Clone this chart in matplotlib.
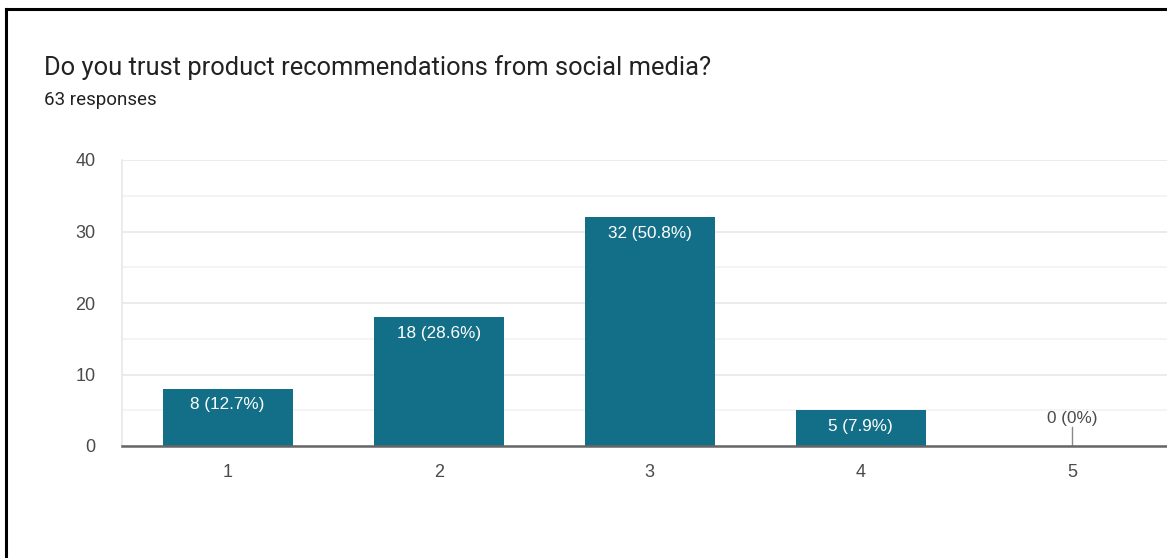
import matplotlib.pyplot as plt
from matplotlib.lines import Line2D
from matplotlib.ticker import MultipleLocator

plt.rcParams['font.family'] = ['Roboto', 'DejaVu Sans']
num_font = ['Liberation Sans', 'DejaVu Sans']

# Survey results
ratings = ['1', '2', '3', '4', '5']
counts = [8, 18, 32, 5, 0]
percents = ['12.7%', '28.6%', '50.8%', '7.9%', '0%']
title = 'Do you trust product recommendations from social media?'
subtitle = '63 responses'

W, H = 1167, 558
fig = plt.figure(figsize=(W / 100, H / 100), dpi=100)
fig.patch.set_facecolor('white')

# plot area in pixels: left 122, right 1177.5 (runs past the edge), y 160..446
ax = fig.add_axes([122 / W, 1 - 446 / H, 1055.5 / W, 286 / H])
x = list(range(1, len(ratings) + 1))
bar_color = '#136f87'
bars = ax.bar(x, counts, width=0.616, color=bar_color, zorder=3)

ax.set_xlim(0.5, 5.5)
ax.set_ylim(0, 40)
ax.yaxis.set_major_locator(MultipleLocator(10))
ax.yaxis.set_minor_locator(MultipleLocator(5))
ax.grid(axis='y', which='major', color='#e8e8e8', linewidth=1.2, zorder=0)
ax.grid(axis='y', which='minor', color='#f2f2f2', linewidth=1.2, zorder=0)
ax.set_xticks(x)
ax.set_xticklabels(ratings)
ax.tick_params(axis='both', which='both', length=0, labelsize=13, colors='#4a4a4a')
ax.tick_params(axis='x', pad=13)
ax.tick_params(axis='y', pad=19)
for lbl in ax.get_xticklabels() + ax.get_yticklabels():
    lbl.set_family(num_font)

for side in ['top', 'right']:
    ax.spines[side].set_visible(False)
ax.spines['left'].set_color('#e8e8e8')
ax.spines['left'].set_linewidth(1.2)
ax.spines['bottom'].set_color('#666666')
ax.spines['bottom'].set_linewidth(1.8)
ax.spines['bottom'].set_zorder(4)

for xi, c, p in zip(x, counts, percents):
    label = f'{c} ({p})'
    if c > 0:
        ax.annotate(label, (xi, c), xytext=(0, -11.5), textcoords='offset points',
                    ha='center', va='center', color='white', fontsize=12.3,
                    family=num_font, zorder=5)
    else:
        ax.plot([xi, xi], [0, 2.7], color='#888888', linewidth=1, zorder=4)
        ax.annotate(label, (xi, 0), xytext=(0, 19.5), textcoords='offset points',
                    ha='center', va='center', color='#4a4a4a', fontsize=12.3,
                    family=num_font, zorder=5)

fig.text(44 / W, 1 - 75 / H, title, fontsize=18.4, color='#222222', va='baseline')
fig.text(44 / W, 1 - 105 / H, subtitle, fontsize=13.5, color='#222222', va='baseline')

# dark frame along the top and left edges
fig.add_artist(Line2D([6 / W, 1], [1 - 9 / H, 1 - 9 / H], transform=fig.transFigure,
                      color='black', linewidth=2.2))
fig.add_artist(Line2D([6 / W, 6 / W], [0, 1 - 9 / H], transform=fig.transFigure,
                      color='black', linewidth=2.2))

fig.savefig('out.png', dpi=100)
